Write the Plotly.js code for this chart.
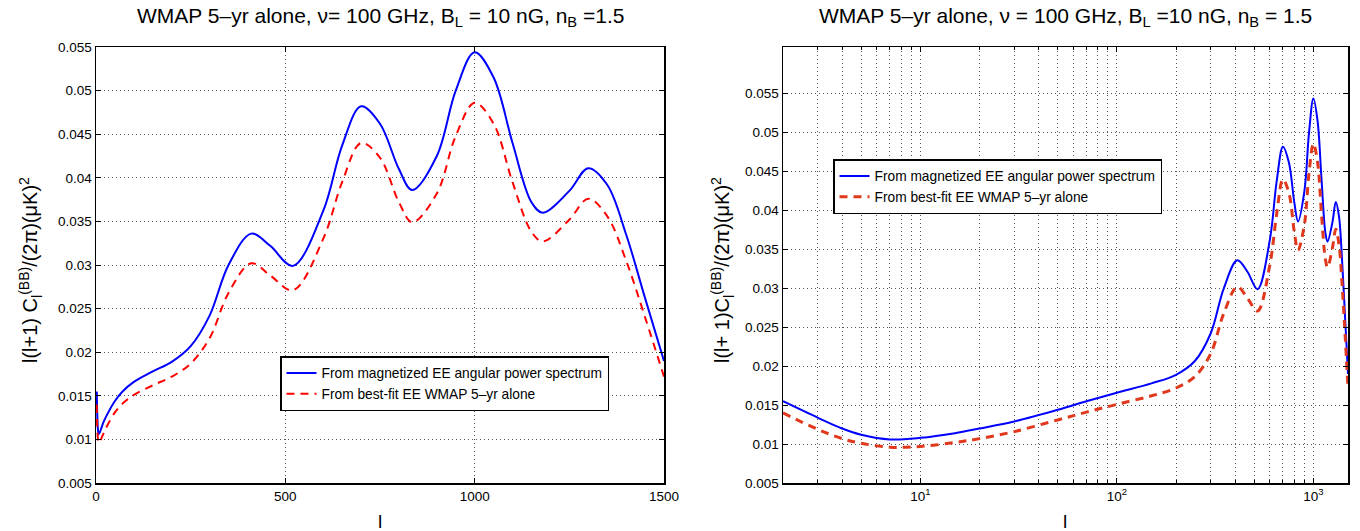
<!DOCTYPE html>
<html>
<head>
<meta charset="utf-8">
<script src="https://cdn.plot.ly/plotly-3.0.1.min.js"></script>
<style>html,body{margin:0;padding:0;background:#fff;}#chart{width:1360px;height:531px;}</style>
</head>
<body>
<div id="chart"></div>
<script>
// multipole l
const ell = [2,3,4,5,7,10,15,20,30,50,70,100,150,200,250,300,350,410,460,520,600,650,700,750,800,835,900,950,1000,1050,1100,1150,1180,1250,1300,1350,1400,1450,1500];
// From magnetized EE angular power spectrum
const magnetizedEE = [0.0155,0.0134,0.0120,0.0112,0.0106,0.0108,0.0114,0.0120,0.0129,0.0144,0.0155,0.0166,0.0178,0.0189,0.0207,0.0242,0.0300,0.0336,0.0322,0.0299,0.0362,0.0437,0.0482,0.0462,0.0410,0.0386,0.0425,0.0500,0.0544,0.0515,0.0440,0.0372,0.0360,0.0385,0.0411,0.0392,0.0335,0.0262,0.0190];
// From best-fit EE WMAP 5-yr alone
const bestFitEE = [0.0140,0.0119,0.0107,0.0101,0.0096,0.0097,0.0102,0.0107,0.0116,0.0131,0.0141,0.0151,0.0162,0.0172,0.0187,0.0216,0.0268,0.0302,0.0288,0.0271,0.0330,0.0395,0.0440,0.0423,0.0372,0.0349,0.0382,0.0448,0.0486,0.0462,0.0395,0.0338,0.0327,0.0352,0.0376,0.0356,0.0305,0.0240,0.0172];
const seriesNames = ['From magnetized EE angular power spectrum','From best-fit EE WMAP 5\u2013yr alone'];
const yTicks = [0.005,0.01,0.015,0.02,0.025,0.03,0.035,0.04,0.045,0.05,0.055];
const yTickText = ['0.005','0.01','0.015','0.02','0.025','0.03','0.035','0.04','0.045','0.05','0.055'];
const logTicks = [10,100,1000];
const logTickText = ['10<sup>1</sup>','10<sup>2</sup>','10<sup>3</sup>'];

const FONT = 'Liberation Sans, Arial, Helvetica, sans-serif';
const traces = [
  {x: ell, y: magnetizedEE, name: seriesNames[0], mode:'lines', line:{color:'#0000ff', width:2, shape:'spline'}, xaxis:'x', yaxis:'y', legend:'legend'},
  {x: ell, y: bestFitEE, name: seriesNames[1], mode:'lines', line:{color:'#ff0000', width:2, dash:'8px,6px', shape:'spline'}, xaxis:'x', yaxis:'y', legend:'legend'},
  {x: ell, y: magnetizedEE, name: seriesNames[0], mode:'lines', line:{color:'#0000ff', width:2, shape:'spline'}, xaxis:'x2', yaxis:'y2', legend:'legend2'},
  {x: ell, y: bestFitEE, name: seriesNames[1], mode:'lines', line:{color:'#e0381c', width:3, dash:'8px,6px', shape:'spline'}, xaxis:'x2', yaxis:'y2', legend:'legend2'}
];

const axCommon = {
  showline:true, mirror:'ticks', linecolor:'#000', linewidth:1.5,
  ticks:'inside', ticklen:5, tickcolor:'#000',
  showgrid:true, gridcolor:'#555', griddash:'1px,3px', gridwidth:1,
  zeroline:false, tickfont:{family:FONT, size:13.5, color:'#000'}
};
const yDom = [48/531, 1-47/531];
const layout = {
  width:1360, height:531,
  margin:{l:0,r:0,t:0,b:0},
  paper_bgcolor:'#fff', plot_bgcolor:'#fff',
  font:{family:FONT, color:'#000'},
  xaxis: Object.assign({}, axCommon, {domain:[96/1360, 664/1360], range:[0,1500], tickvals:[0,500,1000,1500], anchor:'y'}),
  yaxis: Object.assign({}, axCommon, {domain:yDom, range:[0.005,0.055], tickvals:yTicks, ticktext:yTickText, anchor:'x'}),
  xaxis2: Object.assign({}, axCommon, {domain:[783/1360, 1348/1360], type:'log', range:[Math.log10(2), Math.log10(1500)], tickvals:logTicks, ticktext:logTickText, anchor:'y2',
     minor:{dtick:'D1', showgrid:true, griddash:'1px,3px', gridcolor:'#555', ticks:'inside', ticklen:3, tickcolor:'#000'}}),
  yaxis2: Object.assign({}, axCommon, {domain:yDom, range:[0.005,0.061], tickvals:yTicks, ticktext:yTickText, anchor:'x2'}),
  legend: {x:280/1360, y:1-356/531, xanchor:'left', yanchor:'top', bgcolor:'#fff', bordercolor:'#000', borderwidth:1.5,
           font:{family:FONT, size:13.75, color:'#000'}, tracegroupgap:0},
  legend2: {x:833/1360, y:1-159/531, xanchor:'left', yanchor:'top', bgcolor:'#fff', bordercolor:'#000', borderwidth:1.5,
           font:{family:FONT, size:13.75, color:'#000'}, tracegroupgap:0},
  showlegend:true,
  annotations:[
    {xref:'paper', yref:'paper', x:380/1360, y:1-17/531, xanchor:'center', yanchor:'middle', showarrow:false,
     text:'WMAP 5\u2013yr alone, \u03bd= 100 GHz, B<sub>L</sub> = 10 nG, n<sub>B</sub> =1.5', font:{family:FONT, size:21, color:'#000'}},
    {xref:'paper', yref:'paper', x:1065/1360, y:1-17/531, xanchor:'center', yanchor:'middle', showarrow:false,
     text:'WMAP 5\u2013yr alone, \u03bd = 100 GHz, B<sub>L</sub> =10 nG, n<sub>B</sub> = 1.5', font:{family:FONT, size:21, color:'#000'}},
    {xref:'paper', yref:'paper', x:30/1360, y:1-270/531, xanchor:'center', yanchor:'middle', showarrow:false, textangle:-90,
     text:'l(l+1) C<sub>l</sub><sup>(BB)</sup>/(2\u03c0)(\u03bcK)<sup>2</sup>', font:{family:FONT, size:20, color:'#000'}},
    {xref:'paper', yref:'paper', x:722/1360, y:1-270/531, xanchor:'center', yanchor:'middle', showarrow:false, textangle:-90,
     text:'l(l+ 1)C<sub>l</sub><sup>(BB)</sup>/(2\u03c0)(\u03bcK)<sup>2</sup>', font:{family:FONT, size:20, color:'#000'}},
    {xref:'paper', yref:'paper', x:380/1360, y:1-521/531, xanchor:'center', yanchor:'middle', showarrow:false,
     text:'l', font:{family:FONT, size:19, color:'#000'}},
    {xref:'paper', yref:'paper', x:1065/1360, y:1-521/531, xanchor:'center', yanchor:'middle', showarrow:false,
     text:'l', font:{family:FONT, size:19, color:'#000'}}
  ]
};
Plotly.newPlot('chart', traces, layout, {staticPlot:true, displayModeBar:false});
</script>
</body>
</html>
